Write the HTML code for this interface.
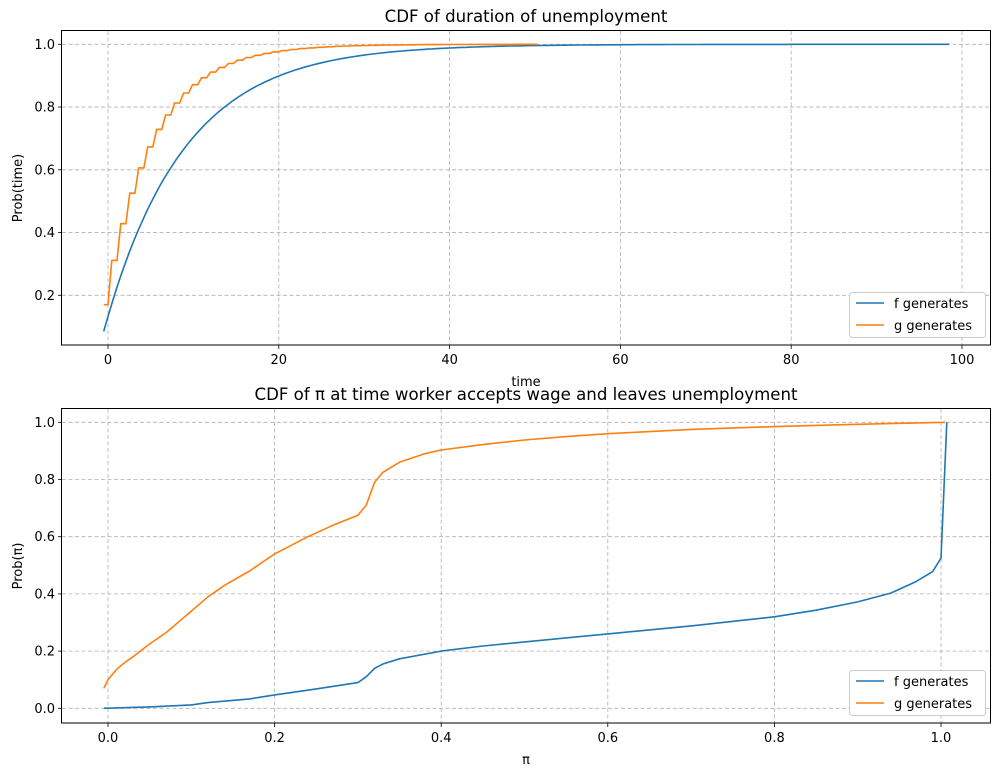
<!DOCTYPE html>
<html><head><meta charset="utf-8"><style>
body{margin:0;background:#fff;}
svg text{font-family:"DejaVu Sans","Liberation Sans",sans-serif;font-size:13px;fill:#000;}
</style></head><body>
<svg id="s" width="1001" height="776" xmlns="http://www.w3.org/2000/svg">
<rect width="1001" height="776" fill="#fff"/>
<g id="grid" stroke="#b0b0b0" stroke-dasharray="4,2.5" stroke-width="0.8" fill="none"></g>
<g id="curves" fill="none" stroke-width="1.6"></g>
<g stroke="#000" stroke-width="1" fill="none">
<rect x="61.5" y="30.5" width="929" height="314.5"/>
<rect x="61.5" y="408.5" width="929" height="314.5"/>
</g>
<g id="ticks" stroke="#000" stroke-width="0.8"></g>
<g id="labels"></g>
<text x="526" y="22" text-anchor="middle" style="font-size:16.6px">CDF of duration of unemployment</text>
<text x="526" y="400" text-anchor="middle" style="font-size:16.6px">CDF of π at time worker accepts wage and leaves unemployment</text>
<text x="526" y="386" text-anchor="middle">time</text>
<text x="526" y="764" text-anchor="middle">π</text>
<text transform="translate(22,188) rotate(-90)" text-anchor="middle">Prob(time)</text>
<text transform="translate(22,566) rotate(-90)" text-anchor="middle">Prob(π)</text>
<g>
<rect x="849.5" y="292.5" width="136" height="45" rx="3" fill="#fff" stroke="#ccc"/>
<line x1="856" y1="303" x2="884" y2="303" stroke="#1f77b4" stroke-width="1.6"/>
<line x1="856" y1="325" x2="884" y2="325" stroke="#ff7f0e" stroke-width="1.6"/>
<text x="894" y="308">f generates</text><text x="894" y="330">g generates</text>
<rect x="849.5" y="670.5" width="136" height="45" rx="3" fill="#fff" stroke="#ccc"/>
<line x1="856" y1="681" x2="884" y2="681" stroke="#1f77b4" stroke-width="1.6"/>
<line x1="856" y1="703" x2="884" y2="703" stroke="#ff7f0e" stroke-width="1.6"/>
<text x="894" y="686">f generates</text><text x="894" y="708">g generates</text>
</g>
</svg>
<script>
var NS="http://www.w3.org/2000/svg";
function el(p,t,a,txt){var e=document.createElementNS(NS,t);for(var k in a)e.setAttribute(k,a[k]);if(txt!==undefined)e.textContent=txt;document.getElementById(p).appendChild(e);return e;}
var tx=function(t){return 108+8.54*t;}, ty=function(v){return 44.3+(1-v)*313.75;};
var bx=function(p){return 108+833*p;}, by=function(v){return 708.3-286*v;};
[0,20,40,60,80,100].forEach(function(t){var x=tx(t);el("grid","line",{x1:x,x2:x,y1:31,y2:345});el("ticks","line",{x1:x,x2:x,y1:345,y2:349});el("labels","text",{x:x,y:364,"text-anchor":"middle"},t);});
[0.2,0.4,0.6,0.8,1.0].forEach(function(v){var y=ty(v);el("grid","line",{x1:62,x2:991,y1:y,y2:y});el("ticks","line",{x1:58,x2:61.5,y1:y,y2:y});el("labels","text",{x:55,y:y+4.5,"text-anchor":"end"},v.toFixed(1));});
[0,0.2,0.4,0.6,0.8,1.0].forEach(function(p){var x=bx(p);el("grid","line",{x1:x,x2:x,y1:409,y2:723});el("ticks","line",{x1:x,x2:x,y1:723,y2:727});el("labels","text",{x:x,y:742,"text-anchor":"middle"},p.toFixed(1));});
[0,0.2,0.4,0.6,0.8,1.0].forEach(function(v){var y=by(v);el("grid","line",{x1:62,x2:991,y1:y,y2:y});el("ticks","line",{x1:58,x2:61.5,y1:y,y2:y});el("labels","text",{x:55,y:y+4.5,"text-anchor":"end"},v.toFixed(1));});
var d="";for(var t=-0.5;t<=98.5;t+=0.5){var v=1-0.915*Math.exp(-(t+0.5)/9.3);d+=(d?"L":"M")+tx(t).toFixed(1)+","+ty(v).toFixed(1);}
el("curves","path",{d:d,stroke:"#1f77b4"});
d="M"+tx(-0.5)+","+ty(0.17);var t=0,v=0.17;
for(var k=0;k<60;k++){d+="L"+tx(t).toFixed(1)+","+ty(v).toFixed(1);var nv=1-0.83*Math.pow(0.83,k+1);t+=0.45;v=nv;d+="L"+tx(t).toFixed(1)+","+ty(v).toFixed(1);t+=0.6;if(t>50)break;}
d+="L"+tx(50.3)+","+ty(1.0);
el("curves","path",{d:d,stroke:"#ff7f0e"});
function pl(pts,c){var s="";pts.forEach(function(p,i){s+=(i?"L":"M")+bx(p[0]).toFixed(1)+","+by(p[1]).toFixed(1);});el("curves","path",{d:s,stroke:c,"stroke-linejoin":"round"});}
pl([[-0.005,0],[0.05,0.005],[0.1,0.012],[0.12,0.02],[0.17,0.033],[0.2,0.047],[0.25,0.068],[0.3,0.09],[0.31,0.11],[0.32,0.14],[0.33,0.155],[0.35,0.173],[0.4,0.2],[0.45,0.218],[0.5,0.232],[0.6,0.26],[0.7,0.288],[0.8,0.32],[0.85,0.343],[0.9,0.372],[0.94,0.403],[0.97,0.443],[0.99,0.478],[1.0,0.525],[1.007,1.0]],"#1f77b4");
pl([[-0.005,0.07],[0.0,0.1],[0.01,0.135],[0.02,0.16],[0.03,0.18],[0.05,0.225],[0.07,0.265],[0.09,0.315],[0.1,0.34],[0.12,0.39],[0.14,0.43],[0.17,0.48],[0.2,0.54],[0.24,0.60],[0.27,0.64],[0.3,0.675],[0.31,0.71],[0.32,0.79],[0.33,0.825],[0.35,0.86],[0.38,0.89],[0.4,0.903],[0.45,0.922],[0.5,0.938],[0.55,0.95],[0.6,0.96],[0.7,0.975],[0.8,0.985],[0.9,0.993],[1.005,1.0]],"#ff7f0e");
</script>
</body></html>
